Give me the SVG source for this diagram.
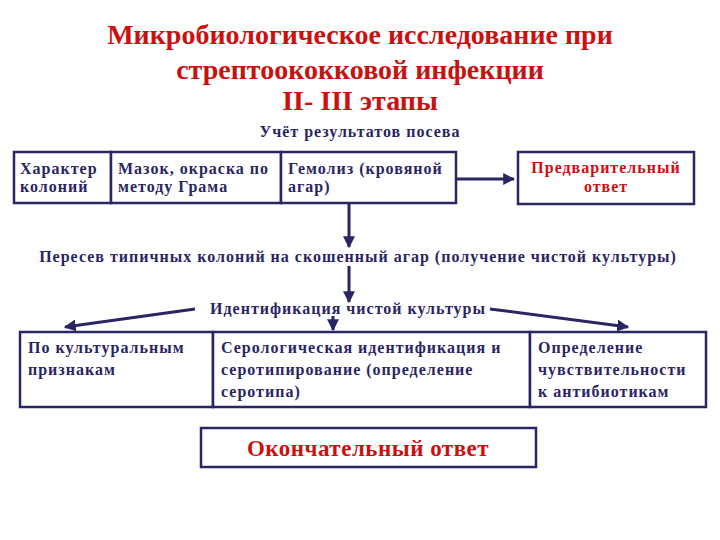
<svg xmlns="http://www.w3.org/2000/svg" width="720" height="540" viewBox="0 0 720 540">
<defs>
<style>
.t{font-family:"Liberation Serif","Times New Roman",serif;font-weight:bold;fill:#2a2563;font-size:16px;letter-spacing:1px}
.title{font-family:"Liberation Serif","Times New Roman",serif;font-weight:bold;fill:#cc1010;font-size:28px;text-anchor:middle}
.red{fill:#cc1010}
.big{font-size:23px;letter-spacing:0.5px}
.box{fill:#ffffff;stroke:#2a2563;stroke-width:2.5}
.ln{stroke:#2a2563;stroke-width:3;fill:none}
</style>
<marker id="ah" viewBox="0 0 10 10" refX="9" refY="5" markerWidth="4" markerHeight="4" orient="auto" markerUnits="strokeWidth">
<path d="M0,0 L10,5 L0,10 z" fill="#2a2563"/>
</marker>
</defs>
<rect width="720" height="540" fill="#ffffff"/>
<g id="title">
<text class="title" x="360" y="44">Микробиологическое исследование при</text>
<text class="title" x="360" y="79">стрептоококковой инфекции</text>
<text class="title" x="360" y="110">II- III этапы</text>
</g>
<g id="uchet"><text class="t" x="360" y="137" text-anchor="middle">Учёт результатов посева</text></g>
<g id="n-char">
<rect class="box" x="14" y="152" width="97" height="51"/>
<text class="t" x="20" y="174">Характер</text>
<text class="t" x="20" y="192">колоний</text>
</g>
<g id="n-mazok">
<rect class="box" x="111" y="152" width="170" height="51"/>
<text class="t" x="118" y="174">Мазок, окраска по</text>
<text class="t" x="118" y="192">методу Грама</text>
</g>
<g id="n-gemoliz">
<rect class="box" x="281" y="152" width="175" height="51"/>
<text class="t" x="288" y="174">Гемолиз (кровяной</text>
<text class="t" x="288" y="192">агар)</text>
</g>
<g id="n-pred">
<rect class="box" x="518" y="152" width="176" height="52"/>
<text class="t red" x="606" y="173" text-anchor="middle">Предварительный</text>
<text class="t red" x="606" y="192" text-anchor="middle">ответ</text>
</g>
<g id="n-peresev"><text class="t" x="358" y="262" text-anchor="middle">Пересев типичных колоний на скошенный агар (получение чистой культуры)</text></g>
<g id="n-ident"><text class="t" x="348" y="314" text-anchor="middle">Идентификация чистой культуры</text></g>
<g id="n-kult">
<rect class="box" x="20" y="332" width="193" height="75"/>
<text class="t" x="28" y="353">По культуральным</text>
<text class="t" x="28" y="375">признакам</text>
</g>
<g id="n-sero">
<rect class="box" x="213" y="332" width="317" height="75"/>
<text class="t" x="221" y="353">Серологическая идентификация и</text>
<text class="t" x="221" y="375">серотипирование (определение</text>
<text class="t" x="221" y="397">серотипа)</text>
</g>
<g id="n-chuv">
<rect class="box" x="530" y="332" width="176" height="75"/>
<text class="t" x="538" y="353">Определение</text>
<text class="t" x="538" y="375">чувствительности</text>
<text class="t" x="538" y="397">к антибиотикам</text>
</g>
<g id="n-final">
<rect class="box" x="201" y="428" width="335" height="39"/>
<text class="t red big" x="368" y="456" text-anchor="middle">Окончательный ответ</text>
</g>
<g id="connectors">
<line class="ln" x1="456" y1="179" x2="514" y2="179" marker-end="url(#ah)"/>
<line class="ln" x1="349" y1="203" x2="349" y2="247" marker-end="url(#ah)"/>
<line class="ln" x1="349" y1="266" x2="349" y2="302" marker-end="url(#ah)"/>
<line class="ln" x1="333" y1="316" x2="333" y2="330" marker-end="url(#ah)" stroke-width="2"/>
<line class="ln" x1="195" y1="309" x2="65" y2="327" marker-end="url(#ah)"/>
<line class="ln" x1="490" y1="309" x2="628" y2="327" marker-end="url(#ah)"/>
</g>
</svg>
